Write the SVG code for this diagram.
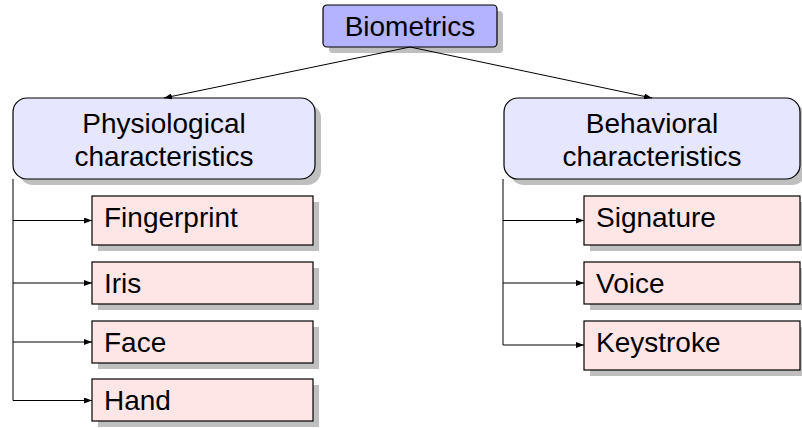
<svg xmlns="http://www.w3.org/2000/svg" width="802" height="428" viewBox="0 0 802 428">
  <style>
    text { font-family: "Liberation Sans", Arial, sans-serif; font-size: 28px; fill: #000; }
    .mid { text-anchor: middle; }
    .shadow { fill: #bfbfbf; stroke: none; }
    .root { fill: #b3b3ff; stroke: #000; stroke-width: 1.2; }
    .group { fill: #e6e6ff; stroke: #000; stroke-width: 1.2; }
    .leaf { fill: #ffe6e6; stroke: #000; stroke-width: 1.2; }
    .edge { fill: none; stroke: #000; stroke-width: 1; }
  </style>
  <defs>
    <marker id="tip" viewBox="0 0 8 6" refX="8" refY="3" markerWidth="8" markerHeight="6" markerUnits="userSpaceOnUse" orient="auto">
      <path d="M0,0 L8,3 L0,6 Z" fill="#000"/>
    </marker>
  </defs>

  <g id="biometrics">
    <rect class="shadow" x="329" y="11" width="174" height="42" rx="4"/>
    <rect class="root" x="323" y="5" width="174" height="42" rx="4"/>
    <text class="mid" x="410" y="36">Biometrics</text>
  </g>

  <g id="physiological">
    <rect class="shadow" x="19" y="104" width="302" height="81" rx="14"/>
    <rect class="group" x="13" y="98" width="302" height="81" rx="14"/>
    <text class="mid" x="164" y="133">Physiological</text>
    <text class="mid" x="164" y="166">characteristics</text>
  </g>

  <g id="behavioral">
    <rect class="shadow" x="510" y="104" width="296" height="81" rx="14"/>
    <rect class="group" x="504" y="98" width="296" height="81" rx="14"/>
    <text class="mid" x="652" y="133">Behavioral</text>
    <text class="mid" x="652" y="166">characteristics</text>
  </g>

  <g id="fingerprint">
    <rect class="shadow" x="98" y="202" width="221" height="49"/>
    <rect class="leaf" x="92" y="196" width="221" height="49"/>
    <text x="104" y="227">Fingerprint</text>
  </g>
  <g id="iris">
    <rect class="shadow" x="98" y="268" width="221" height="42"/>
    <rect class="leaf" x="92" y="262" width="221" height="42"/>
    <text x="104" y="293">Iris</text>
  </g>
  <g id="face">
    <rect class="shadow" x="98" y="327" width="221" height="42"/>
    <rect class="leaf" x="92" y="321" width="221" height="42"/>
    <text x="104" y="352">Face</text>
  </g>
  <g id="hand">
    <rect class="shadow" x="98" y="385" width="221" height="42"/>
    <rect class="leaf" x="92" y="379" width="221" height="42"/>
    <text x="104" y="410">Hand</text>
  </g>

  <g id="signature">
    <rect class="shadow" x="590" y="202" width="216" height="49"/>
    <rect class="leaf" x="584" y="196" width="216" height="49"/>
    <text x="596" y="227">Signature</text>
  </g>
  <g id="voice">
    <rect class="shadow" x="590" y="268" width="216" height="42"/>
    <rect class="leaf" x="584" y="262" width="216" height="42"/>
    <text x="596" y="293">Voice</text>
  </g>
  <g id="keystroke">
    <rect class="shadow" x="590" y="327" width="216" height="49"/>
    <rect class="leaf" x="584" y="321" width="216" height="49"/>
    <text x="596" y="352">Keystroke</text>
  </g>

  <!-- connectors, drawn last so they sit above the drop shadows -->
  <g id="connectors">
    <line class="edge" x1="410" y1="47" x2="164" y2="98" marker-end="url(#tip)"/>
    <line class="edge" x1="410" y1="47" x2="652" y2="98" marker-end="url(#tip)"/>
    <path class="edge" d="M13,179 V400.5"/>
    <line class="edge" x1="13" y1="220.5" x2="92" y2="220.5" marker-end="url(#tip)"/>
    <line class="edge" x1="13" y1="283" x2="92" y2="283" marker-end="url(#tip)"/>
    <line class="edge" x1="13" y1="342" x2="92" y2="342" marker-end="url(#tip)"/>
    <line class="edge" x1="13" y1="400.5" x2="92" y2="400.5" marker-end="url(#tip)"/>
    <path class="edge" d="M503,179 V345"/>
    <line class="edge" x1="503" y1="220.5" x2="584" y2="220.5" marker-end="url(#tip)"/>
    <line class="edge" x1="503" y1="283" x2="584" y2="283" marker-end="url(#tip)"/>
    <line class="edge" x1="503" y1="345" x2="584" y2="345" marker-end="url(#tip)"/>
  </g>
</svg>
